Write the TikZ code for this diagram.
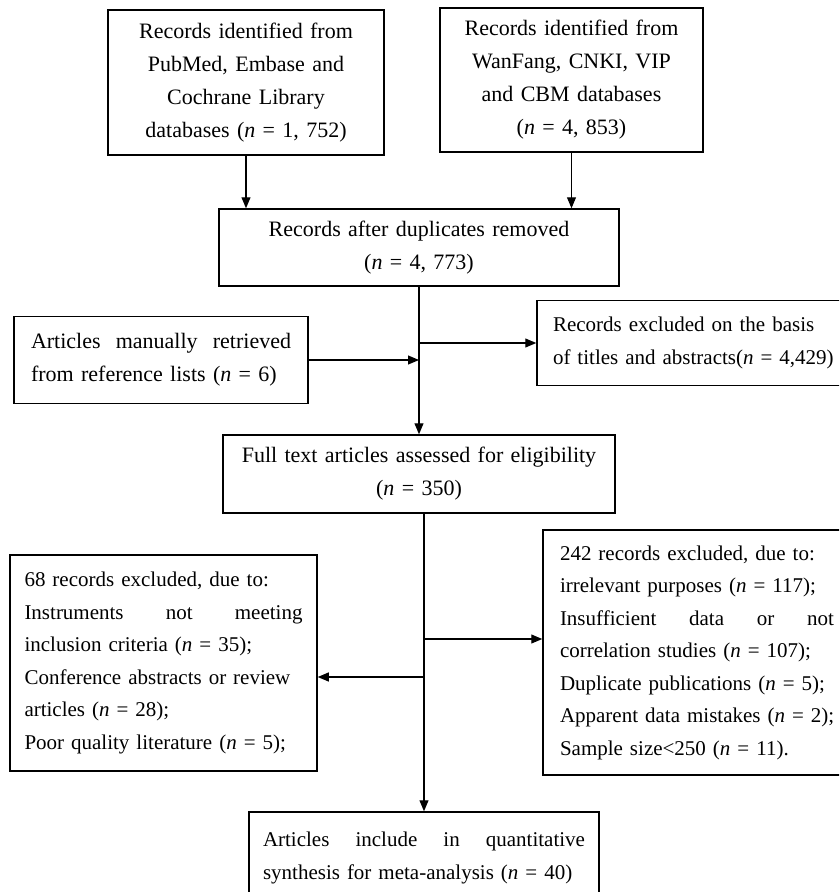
\documentclass[tikz,border=0pt]{standalone}
\usepackage{fontspec}
\setmainfont{Liberation Serif}
\usetikzlibrary{arrows.meta}
\tikzset{
  box/.style={draw, rectangle, line width=1.5pt, inner ysep=4pt, font=\fontsize{22}{33}\selectfont},
  lowbox/.style={box, font=\fontsize{21}{32.5}\selectfont},
  flow/.style={line width=1.1pt, -{Triangle[length=11pt,width=9pt]}}
}

\begin{document}
\begin{tikzpicture}[x=1pt,y=-1pt]
  \clip (0,0) rectangle (839,892);
  \node[box, align=center, text width=256pt, inner xsep=10pt, minimum height=145pt] (src1) at (246,82.5)
    {Records identified from\\ PubMed, Embase and\\ Cochrane Library\\ databases (\textit{n} = 1, 752)};
  \node[box, align=center, text width=243pt, inner xsep=10pt, minimum height=144pt] (src2) at (571.5,80)
    {Records identified from\\ WanFang, CNKI, VIP\\ and CBM databases\\ (\textit{n} = 4, 853)};
  \node[box, align=center, text width=380pt, inner xsep=10pt, minimum height=77pt] (dedup) at (419,247.5)
    {Records after duplicates removed\\ (\textit{n} = 4, 773)};
  \node[box, align=left, text width=260pt, inner xsep=17pt, minimum height=87pt] (manual) at (161,360)
    {Articles\hfill manually\hfill retrieved\\ from reference lists (\textit{n} = 6)};
  \node[lowbox, align=left, text width=300pt, inner xsep=16pt, minimum height=85pt] (excl1) at (703,343)
    {Records excluded on the basis\\ of titles and abstracts(\textit{n} = 4,429)};
  \node[box, align=center, text width=372pt, inner xsep=10pt, minimum height=78pt] (full) at (419,474)
    {Full text articles assessed for eligibility\\ (\textit{n} = 350)};
  \node[lowbox, align=left, text width=278pt, inner xsep=14.5pt, minimum height=216pt] (excl68) at (163.5,663)
    {68 records excluded, due to:\\ Instruments\hfill not\hfill meeting\\ inclusion criteria (\textit{n} = 35);\\
     Conference abstracts or review\\ articles (\textit{n} = 28);\\ Poor quality literature (\textit{n} = 5);};
  \node[lowbox, align=left, text width=300pt, inner xsep=17pt, minimum height=245pt] (excl242) at (710,652.5)
    {242 records excluded, due to:\\ irrelevant purposes (\textit{n} = 117);\\ \makebox[274pt]{Insufficient\hfill data\hfill or\hfill not}\\
     correlation studies (\textit{n} = 107);\\ Duplicate publications (\textit{n} = 5);\\
     Apparent data mistakes (\textit{n} = 2);\\ Sample size<250 (\textit{n} = 11).};
  \node[lowbox, align=left, text width=322pt, inner xsep=14pt, minimum height=92pt] (final) at (424,858)
    {Articles\hfill include\hfill in\hfill quantitative\\ synthesis for meta-analysis (\textit{n} = 40)};
  \coordinate (cut242) at (424,639);
  \coordinate (cut68) at (424,677);
  \draw[flow] (src1.south) -- (src1.south |- dedup.north);
  \draw[flow] (src2.south) -- (src2.south |- dedup.north);
  \draw[flow] (dedup.south) -- (full.north);
  \draw[flow] (dedup.south |- excl1.west) -- (excl1.west);
  \draw[flow] (manual.east) -- (manual.east -| dedup.south);
  \draw[flow] (full.south -| final.north) -- (final.north);
  \draw[flow] (cut242) -- (cut242 -| excl242.west);
  \draw[flow] (cut68) -- (cut68 -| excl68.east);
\end{tikzpicture}
\end{document}
